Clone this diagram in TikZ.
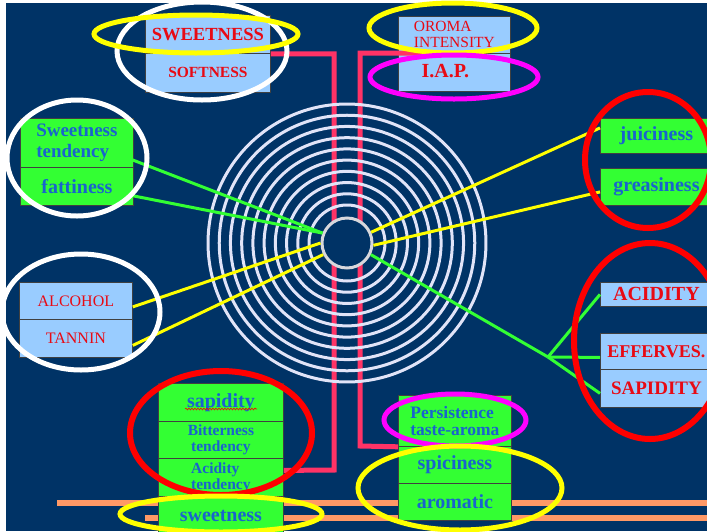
\documentclass[tikz,border=0pt]{standalone}
\usepackage{fontspec}
\setmainfont{Liberation Serif}
\usetikzlibrary{calc,decorations.pathmorphing}
\definecolor{navy}{RGB}{0,51,102}
\definecolor{lblue}{RGB}{153,204,255}
\definecolor{lgreen}{RGB}{51,255,51}
\definecolor{txtblue}{RGB}{25,100,205}
\definecolor{txtred}{RGB}{232,10,20}
\definecolor{pinkc}{RGB}{255,51,102}
\definecolor{orangec}{RGB}{255,153,102}
\definecolor{ringc}{RGB}{225,228,248}
\definecolor{hubc}{RGB}{215,215,220}
\definecolor{magc}{RGB}{255,0,255}
\definecolor{yelc}{RGB}{255,255,0}
\definecolor{redc}{RGB}{255,0,0}
\begin{document}
\begin{tikzpicture}[x=1pt,y=-1pt,
  boxbase/.style={draw=black!75, line width=0.8pt, inner sep=0pt, anchor=north west},
  bluebox/.style={boxbase, fill=lblue, text=txtred},
  greenbox/.style={boxbase, fill=lgreen, text=txtblue},
  pinkln/.style={draw=pinkc, line width=5pt},
  ringln/.style={draw=ringc, line width=3pt},
  grln/.style={draw=lgreen, line width=3pt},
  yeln/.style={draw=yelc, line width=3pt},
  orln/.style={draw=orangec, line width=6pt},
  ringmark/.style={line width=5pt},
  redmark/.style={draw=redc, line width=6pt},
]
\useasboundingbox (0,0) rectangle (707,531);
\fill[white] (0,0) rectangle (707,531);
\fill[navy] (6,3) rectangle (707,531);

% orange lines
\coordinate (o1a) at (57,503); \coordinate (o1b) at (712,503);
\coordinate (o2a) at (145,518); \coordinate (o2b) at (712,518);
\draw[orln] (o1a) -- (o1b);
\draw[orln] (o2a) -- (o2b);

% top boxes
\node[bluebox, minimum width=125, minimum height=38, font=\fontsize{18.5}{20}\selectfont\bfseries] (sw) at (145,15) {SWEETNESS};
\node[bluebox, minimum width=125, minimum height=39, font=\fontsize{15.5}{17}\selectfont\bfseries] (soft) at (145,53) {SOFTNESS};
\node[bluebox, minimum width=112, minimum height=37, align=left, font=\fontsize{15.5}{16}\selectfont] (oroma) at (398,16) {OROMA\\INTENSITY};
\node[bluebox, minimum width=112, minimum height=38, font=\fontsize{20}{22}\selectfont\bfseries] (iap) at (398,53) {\raisebox{4pt}{I.A.P.}\hspace*{18pt}};

% left boxes
\node[greenbox, minimum width=113, minimum height=49, align=left, font=\fontsize{19}{21}\selectfont\bfseries] (st) at (20,118) {Sweetness\\tendency};
\node[greenbox, minimum width=113, minimum height=38, font=\fontsize{20}{22}\selectfont\bfseries] (fat) at (20,167) {fattiness};
\node[bluebox, minimum width=113, minimum height=37, font=\fontsize{16}{18}\selectfont] (alc) at (19,282) {ALCOHOL};
\node[bluebox, minimum width=113, minimum height=38, font=\fontsize{16}{18}\selectfont] (tan) at (19,319) {TANNIN};

% right boxes
\node[greenbox, minimum width=112, minimum height=35, font=\fontsize{20}{22}\selectfont\bfseries] (jui) at (600,118) {juiciness};
\node[greenbox, minimum width=112, minimum height=37, font=\fontsize{20}{22}\selectfont\bfseries] (gre) at (600,168) {greasiness};
\node[bluebox, minimum width=112, minimum height=24, font=\fontsize{20}{22}\selectfont\bfseries] (acd) at (600,282) {ACIDITY};
\node[bluebox, minimum width=112, minimum height=36, font=\fontsize{18}{20}\selectfont\bfseries] (eff) at (600,333) {EFFERVES.};
\node[bluebox, minimum width=112, minimum height=38, font=\fontsize{19}{21}\selectfont\bfseries] (sap) at (600,369) {SAPIDITY};

% bottom-left boxes
\node[greenbox, minimum width=125, minimum height=38, font=\fontsize{20}{22}\selectfont\bfseries] (sapl) at (158,383) {sapidity};
\node[greenbox, minimum width=125, minimum height=37, align=center, font=\fontsize{15.5}{16}\selectfont\bfseries] (bit) at (158,421) {Bitterness\\tendency};
\node[greenbox, minimum width=125, minimum height=38, align=left, font=\fontsize{15.5}{16}\selectfont\bfseries] (actd) at (158,458) {Acidity\\tendency};
\node[greenbox, minimum width=125, minimum height=40, font=\fontsize{20}{22}\selectfont\bfseries] (swb) at (158,496) {sweetness};

% bottom-right boxes
\node[greenbox, minimum width=113, minimum height=51, align=left, font=\fontsize{17.5}{17}\selectfont\bfseries] (pers) at (398,395) {Persistence\\taste-aroma};
\node[greenbox, minimum width=113, minimum height=37, font=\fontsize{20}{22}\selectfont\bfseries] (spi) at (398,446) {spiciness};
\node[greenbox, minimum width=113, minimum height=37, font=\fontsize{20}{22}\selectfont\bfseries] (aro) at (398,483) {aromatic};

% pink connectors
\draw[pinkln] (sw.south east) -| (334,470) -- ($(actd.east)+(0,-7)$);
\draw[pinkln] ($(iap.north west)+(24,0)$) -| (360,446) -- (pers.south west);

% rings
\coordinate (ctr) at (347,243);
\foreach \i in {0,...,9} {
  \draw[ringln] (ctr) circle[radius=38+\i*11.22];
}
\node[circle, draw=hubc, fill=navy, line width=3pt, minimum size=50pt, inner sep=0pt] (hub) at (ctr) {};

% connectors from hub
\draw[grln] ($(st.east)+(-13,12.5)$) -- (hub.158);
\draw[grln] ($(fat.east)+(-13,7)$) -- (hub.158);
\draw[yeln] ($(alc.east)+(0,6)$) -- (hub.180);
\draw[yeln] ($(tan.east)+(0,7)$) -- (hub.206);
\draw[yeln] (hub.24) -- ($(jui.west)+(0,-8)$);
\draw[yeln] (hub.-5) -- ($(gre.west)+(0,5)$);
\coordinate (fan) at (548,357);
\draw[grln] (hub.-26) -- (fan);
\draw[grln] (fan) -- (acd.west);
\draw[grln] (fan) -- ($(eff.west)+(0,6)$);
\draw[grln] (fan) -- ($(sap.west)+(0,5)$);

% highlight ellipses
\draw[white, ringmark] (202,51) ellipse[x radius=85, y radius=49];
\draw[yelc, ringmark] (196,34) ellipse[x radius=102, y radius=19];
\draw[yelc, ringmark] (453,28) ellipse[x radius=84, y radius=25];
\draw[magc, ringmark] (454,77) ellipse[x radius=84, y radius=22];
\draw[white, ringmark] (77,158) ellipse[x radius=70, y radius=58];
\draw[white, ringmark] (81,312) ellipse[x radius=79, y radius=58];
\draw[redmark] (648,160) ellipse[x radius=63, y radius=68];
\draw[redmark] (650,341) ellipse[x radius=76, y radius=98];
\draw[redmark] (221,433) ellipse[x radius=91, y radius=62];
\draw[yelc, ringmark] (221,514) ellipse[x radius=101, y radius=18];
\draw[magc, ringmark] (455,420) ellipse[x radius=71, y radius=26];
\draw[yelc, ringmark] (460,488) ellipse[x radius=102, y radius=42];

% spell-check squiggle under "sapidity"
\coordinate (sq1) at (185,409); \coordinate (sq2) at (257,409);
\draw[redc, line width=0.6pt, decorate, decoration={snake, amplitude=0.9pt, segment length=3pt}] (sq1) -- (sq2);
\end{tikzpicture}
\end{document}
